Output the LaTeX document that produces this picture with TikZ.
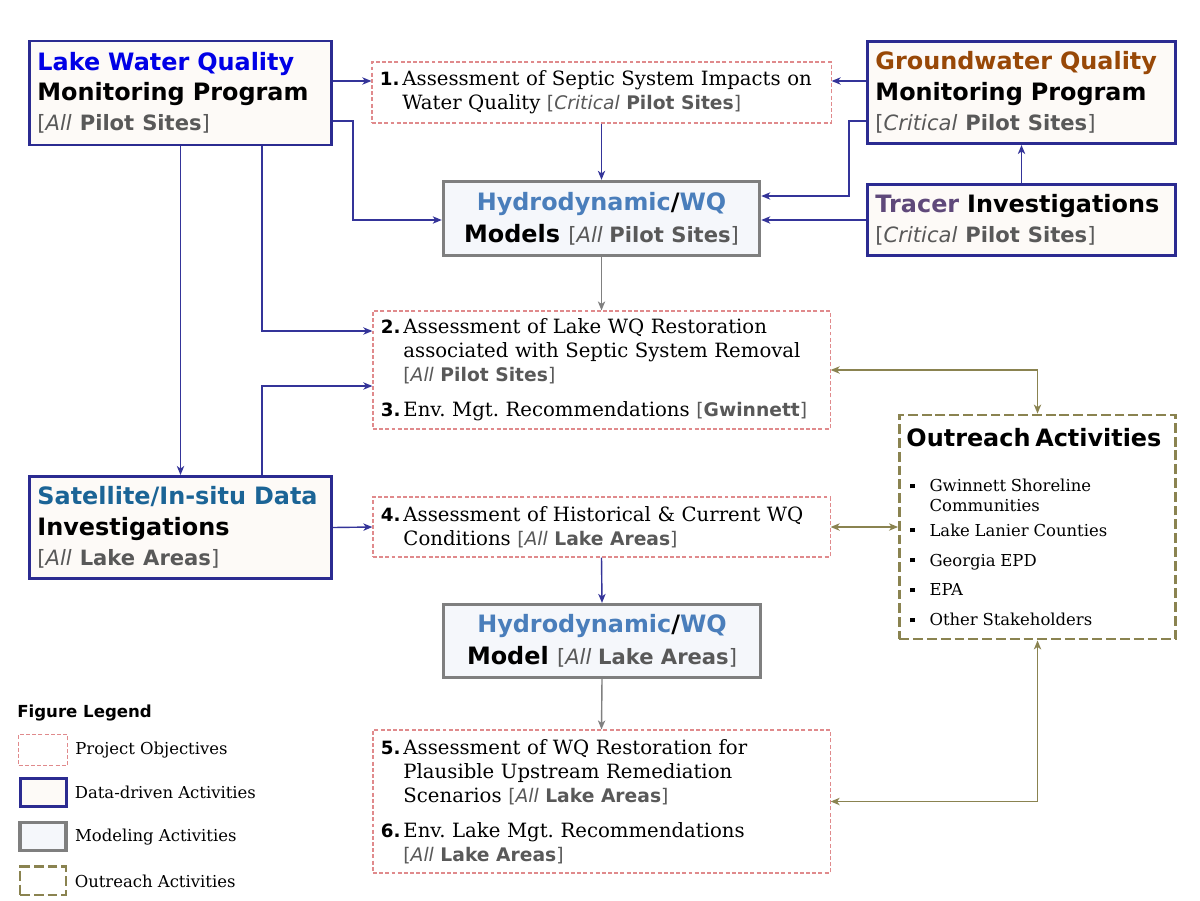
\documentclass[tikz,border=0pt]{standalone}
\usepackage{fontspec}
\setmainfont{DejaVu Serif}
\setsansfont{DejaVu Sans}
\usepackage{tikz}
\usepackage{color}
\usetikzlibrary{positioning}
\usetikzlibrary{arrows.meta}
\frenchspacing
\definecolor{databorder}{HTML}{2B2B91}
\definecolor{datafill}{HTML}{FDFAF7}
\definecolor{modborder}{HTML}{7F7F7F}
\definecolor{modfill}{HTML}{F5F7FB}
\definecolor{objborder}{HTML}{E08A8C}
\definecolor{outborder}{HTML}{8A8350}
\definecolor{lakeblue}{HTML}{0000E6}
\definecolor{gwbrown}{HTML}{984807}
\definecolor{hydroblue}{HTML}{4A7EBB}
\definecolor{tracerpurple}{HTML}{5F497A}
\definecolor{satblue}{HTML}{1B6496}
\definecolor{sitegray}{HTML}{595959}
\definecolor{arrowblue}{HTML}{343499}
\definecolor{arrowgray}{HTML}{808080}
\newcommand{\site}[2]{{\color{sitegray}\mdseries\upshape[\textit{#1} \textbf{#2}]}}
\newcommand{\datasite}[2]{{\fontsize{15}{21.5}\selectfont\site{#1}{#2}}}
\newcommand{\objsite}[2]{{\sffamily\fontsize{13.3}{17}\selectfont\site{#1}{#2}}}
\newcommand{\objno}[1]{\makebox[16pt][l]{\sffamily\bfseries\fontsize{13}{17}\selectfont #1}}
\newcommand{\objin}{\hspace*{16pt}}
\newcommand{\oitem}[1]{\par\noindent\hspace*{2.8pt}\makebox[13.6pt][l]{\rule[2.6pt]{3pt}{3pt}}\parbox[t]{5.5cm}{#1}\par}
\tikzset{databox/.style={draw=databorder,fill=datafill,line width=2.1pt,inner xsep=0.2cm,align=left,font=\sffamily\bfseries\fontsize{17}{21.5}\selectfont},
modelbox/.style={draw=modborder,fill=modfill,line width=2.4pt,align=center,font=\sffamily\bfseries\fontsize{17}{22.8}\selectfont},
objbox/.style={draw=objborder,line width=0.8pt,dash pattern=on 2.8pt off 1.6pt,inner xsep=0.2cm,align=left,font=\fontsize{14}{17}\selectfont},
outbox/.style={draw=outborder,line width=2pt,dash pattern=on 7pt off 2.8pt,inner xsep=0.175cm,align=left},
legendbox/.style={minimum width=1.15cm,minimum height=0.7cm,inner sep=0pt,font=\tiny},
legendtext/.style={inner sep=0pt,font=\fontsize{11.7}{14}\selectfont},
dataflow/.style={draw=arrowblue,line width=1pt,-{Stealth[length=6.4pt,width=5.2pt,inset=1.8pt]}},
modelflow/.style={draw=arrowgray,line width=1pt,-{Stealth[length=6.4pt,width=5.2pt,inset=1.8pt]}},
outreachflow/.style={draw=outborder,line width=1pt,{Stealth[length=6.4pt,width=5.2pt,inset=1.8pt]}-{Stealth[length=6.4pt,width=5.2pt,inset=1.8pt]}}}
\begin{document}
\begin{tikzpicture}[x=0.025cm,y=-0.025cm]
\path[fill=white] (0,0) rectangle (1200,900);
\useasboundingbox (0,0) rectangle (1200,900);

% data-driven activities
\node (lwq) [databox, minimum width=7.55cm, minimum height=2.6cm, text width=7.15cm] at (180.5,93)
 {{\color{lakeblue}Lake Water Quality}\\ Monitoring Program\\ \datasite{All}{Pilot Sites}};
\node (gw) [databox, minimum width=7.7cm, minimum height=2.55cm, text width=7.3cm] at (1021.5,92.5)
 {{\color{gwbrown}Groundwater Quality}\\ Monitoring Program\\ \datasite{Critical}{Pilot Sites}};
\node (tracer) [databox, minimum width=7.7cm, minimum height=1.78cm, text width=7.3cm] at (1021.5,220)
 {{\color{tracerpurple}Tracer} Investigations\\ \datasite{Critical}{Pilot Sites}};
\node (sat) [databox, minimum width=7.55cm, minimum height=2.55cm, text width=7.15cm] at (180.5,527.5)
 {\mbox{\color{satblue}Satellite/In-situ Data}\\ Investigations\\ \datasite{All}{Lake Areas}};

% modeling activities
\node (models) [modelbox, minimum width=7.9cm, minimum height=1.85cm] at (601.5,218.5)
 {{\color{hydroblue}Hydrodynamic}/{\color{hydroblue}WQ}\\ Models \datasite{All}{Pilot Sites}};
\node (model2) [modelbox, minimum width=7.92cm, minimum height=1.82cm] at (602,641)
 {{\color{hydroblue}Hydrodynamic}/{\color{hydroblue}WQ}\\ Model \datasite{All}{Lake Areas}};

% project objectives
\node (obj1) [objbox, minimum width=11.475cm, minimum height=1.525cm, text width=11.075cm] at (601.5,92.5)
 {\objno{1.}Assessment of Septic System Impacts on\\
  \objin Water Quality \objsite{Critical}{Pilot Sites}};
\node (obj23) [objbox, minimum width=11.425cm, minimum height=2.95cm, text width=11.025cm] at (601.5,370)
 {\objno{2.}Assessment of Lake WQ Restoration\\
  \objin associated with Septic System Removal\\
  \objin \objsite{All}{Pilot Sites}\\[8pt]
  \objno{3.}Env. Mgt. Recommendations {\sffamily\fontsize{13.3}{17}\selectfont\color{sitegray}[\textbf{Gwinnett}]}};
\node (obj4) [objbox, minimum width=11.425cm, minimum height=1.5cm, text width=11.025cm] at (601.5,527)
 {\objno{4.}Assessment of Historical \& Current WQ\\
  \objin Conditions \objsite{All}{Lake Areas}};
\node (obj56) [objbox, minimum width=11.425cm, minimum height=3.575cm, text width=11.025cm] at (601.5,801.5)
 {\objno{5.}Assessment of WQ Restoration for\\
  \objin Plausible Upstream Remediation\\
  \objin Scenarios \objsite{All}{Lake Areas}\\[8pt]
  \objno{6.}Env. Lake Mgt. Recommendations\\
  \objin \objsite{All}{Lake Areas}};

% outreach
\node (outreach) [outbox, minimum width=6.9cm, minimum height=5.6cm, text width=6.55cm] at (1037.5,527)
 {{\sffamily\bfseries\fontsize{17}{21}\selectfont Outreach Activities\par}
  \vspace{11.4pt}
  {\fontsize{11.7}{14.2}\selectfont\setlength{\parskip}{7.1pt}
  \oitem{Gwinnett Shoreline\\Communities}
  \oitem{Lake Lanier Counties}
  \oitem{Georgia EPD}
  \oitem{EPA}
  \oitem{Other Stakeholders}}};

% legend
\node (legend) [anchor=west, inner sep=0pt, font=\sffamily\bfseries\fontsize{11.8}{14}\selectfont] at (17,713) {Figure Legend};
\node (legobj) [objbox, legendbox, minimum width=1.225cm, minimum height=0.775cm, anchor=north west] at (18,734) {};
\node (legdata) [databox, legendbox, below=0.275cm of legobj] {};
\node (legmod) [modelbox, legendbox, below=0.325cm of legdata] {};
\node (legout) [outbox, legendbox, below=0.325cm of legmod] {};
\node (legobjtxt) [legendtext, right=0.175cm of legobj] {Project Objectives};
\node (legdatatxt) [legendtext, right=0.175cm of legdata] {Data-driven Activities};
\node (legmodtxt) [legendtext, right=0.175cm of legmod] {Modeling Activities};
\node (legouttxt) [legendtext, right=0.175cm of legout] {Outreach Activities};

% data flow
\draw [dataflow] (lwq.east |- 0,81) -- (obj1.west |- 0,81);
\draw [dataflow] (lwq.east |- 0,121) -- ++(20,0) |- (models.west |- 0,220);
\draw [dataflow] (lwq.south) -- (sat.north);
\draw [dataflow] (lwq.south -| 262,0) |- (obj23.west |- 0,331);
\draw [dataflow] (sat.north -| 262,0) |- (obj23.west |- 0,386);
\draw [dataflow] (sat.east) -- (obj4.west);
\draw [dataflow] (obj1.south) -- (models.north);
\draw [dataflow] (gw.west |- 0,81) -- (obj1.east |- 0,81);
\draw [dataflow] (gw.west |- 0,121) -- ++(-17,0) |- (models.east |- 0,196);
\draw [dataflow] (tracer.west) -- (tracer.west -| models.east);
\draw [dataflow] (tracer.north) -- (gw.south);
\draw [dataflow] (obj4.south) -- (model2.north);
% model flow
\draw [modelflow] (models.south) -- (obj23.north);
\draw [modelflow] (model2.south) -- (obj56.north);
% outreach flow
\draw [outreachflow] (obj23.east) -| (outreach.north);
\draw [outreachflow] (obj4.east) -- (obj4.east -| outreach.west);
\draw [outreachflow] (obj56.east) -| (outreach.south);
\end{tikzpicture}
\end{document}
